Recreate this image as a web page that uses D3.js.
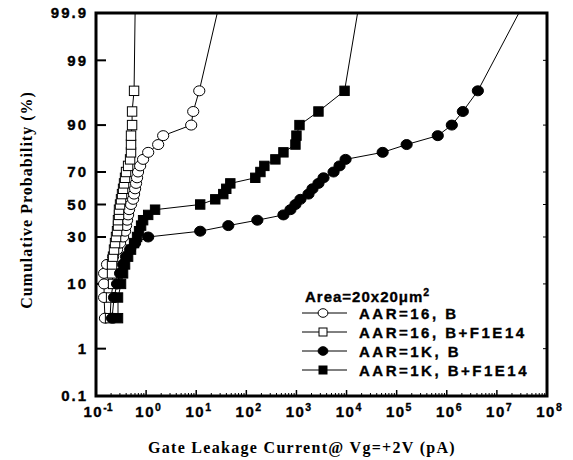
<!DOCTYPE html>
<html><head><meta charset="utf-8">
<script src="https://cdn.jsdelivr.net/npm/d3@7"></script>
<style>body{margin:0;background:#fff}svg{display:block}</style>
</head><body><svg id="c" width="573" height="460"></svg>
<script>
// cumulative probability (%) of each plotted point
const cumPct = [3.33,6.67,10,13.33,16.67,20,23.33,26.67,30,33.33,36.67,40,43.33,46.67,50,53.33,56.67,60,63.33,66.67,70,73.33,76.67,80,83.33,86.67,90,93.33,96.67];
// gate leakage current (pA)
const openCircleI = [0.151,0.145,0.145,0.145,0.166,0.219,0.263,0.302,0.347,0.380,0.398,0.417,0.437,0.457,0.50,0.55,0.575,0.603,0.63,0.66,0.69,0.76,0.87,1.10,1.74,2.19,7.94,8.71,11.5];
const openSquareI = [0.191,0.20,0.219,0.209,0.209,0.219,0.229,0.240,0.251,0.263,0.275,0.275,0.288,0.288,0.302,0.316,0.331,0.347,0.363,0.380,0.398,0.437,0.479,0.50,0.50,0.50,0.525,0.525,0.575];
const solidCircleI = [0.209,0.229,0.263,0.302,0.347,0.398,0.479,0.603,1.10,12.0,43.7,166,550,759,955,1200,1740,2090,2750,3470,5500,7240,9550,52500,158000,661000,1.26e6,2.09e6,4.17e6];
const solidSquareI = [0.275,0.275,0.316,0.347,0.380,0.437,0.50,0.575,0.66,0.724,0.794,0.871,1.10,1.51,12.0,24.0,34.7,39.8,47.9,151,191,229,380,550,955,1000,1150,2750,9120];
// where each curve leaves the top of the frame
const endPct = 99.9;
const endI = [26.3, 0.603, 2.75e7, 1.66e4];
const seriesNames = ["AAR=16, B","AAR=16, B+F1E14","AAR=1K, B","AAR=1K, B+F1E14"];
const seriesShape = ["circle","square","circle","square"];
const seriesFill = ["#fff","#fff","#000","#000"];
const yTickPct = [0.1,1,10,30,50,70,90,99,99.9];
const yTickLabels = ["0.1","1","10","30","50","70","90","99","99.9"];
const xTickExp = [-1,0,1,2,3,4,5,6,7,8];

function probit(p){
  const a=[-3.969683028665376e+01,2.209460984245205e+02,-2.759285104469687e+02,1.383577518672690e+02,-3.066479806614716e+01,2.506628277459239e+00];
  const b=[-5.447609879822406e+01,1.615858368580409e+02,-1.556989798598866e+02,6.680131188771972e+01,-1.328068155288572e+01];
  const c=[-7.784894002430293e-03,-3.223964580411365e-01,-2.400758277161838e+00,-2.549732539343734e+00,4.374664141464968e+00,2.938163982698783e+00];
  const d=[7.784695709041462e-03,3.224671290700398e-01,2.445134137142996e+00,3.754408661907416e+00];
  const pl=0.02425;let q,r;
  if(p<pl){q=Math.sqrt(-2*Math.log(p));return (((((c[0]*q+c[1])*q+c[2])*q+c[3])*q+c[4])*q+c[5])/((((d[0]*q+d[1])*q+d[2])*q+d[3])*q+1);}
  if(p<=1-pl){q=p-0.5;r=q*q;return (((((a[0]*r+a[1])*r+a[2])*r+a[3])*r+a[4])*r+a[5])*q/(((((b[0]*r+b[1])*r+b[2])*r+b[3])*r+b[4])*r+1);}
  q=Math.sqrt(-2*Math.log(1-p));return -(((((c[0]*q+c[1])*q+c[2])*q+c[3])*q+c[4])*q+c[5])/((((d[0]*q+d[1])*q+d[2])*q+d[3])*q+1);
}

const L=96,R=547,T=13,B=396;
const svg=d3.select("#c");
const x=d3.scaleLog().domain([0.1,1e8]).range([L,R]);
const yz=d3.scaleLinear().domain([probit(0.001),probit(0.999)]).range([B,T]);
const y=p=>yz(probit(p/100));

const sans="'Liberation Sans', Arial, sans-serif";
const serif="'Liberation Serif', 'Times New Roman', serif";
function heavy(sel){return sel.attr("stroke","#000").attr("stroke-width",0.35);}

// Y axis (ticks inward)
const gy=svg.append("g").attr("transform",`translate(${L},0)`);
yTickPct.forEach((p,i)=>{
  gy.append("line").attr("x1",0).attr("x2",10).attr("y1",y(p)).attr("y2",y(p)).attr("stroke","#000").attr("stroke-width",2);
  heavy(gy.append("text").attr("x",-8).attr("y",y(p)).attr("dy","0.36em").attr("text-anchor","end")
    .attr("font-family",sans).attr("font-weight","bold").attr("font-size",15).attr("letter-spacing",2).text(yTickLabels[i]));
  if(i>0&&i<yTickPct.length-1) svg.append("line").attr("x1",R-4).attr("x2",R).attr("y1",y(p)).attr("y2",y(p)).attr("stroke","#000").attr("stroke-width",1);
});

// X axis with minor ticks
const gx=svg.append("g").attr("transform",`translate(0,${B})`);
const minor=[];
xTickExp.forEach(e=>{ if(e<8) for(let k=2;k<10;k++) minor.push(k*Math.pow(10,e)); });
gx.selectAll("line.mi").data(minor).enter().append("line").attr("x1",d=>x(d)).attr("x2",d=>x(d)).attr("y1",0).attr("y2",-3).attr("stroke","#000").attr("stroke-width",1);
gx.selectAll("line.ma").data(xTickExp).enter().append("line").attr("x1",d=>x(Math.pow(10,d))).attr("x2",d=>x(Math.pow(10,d))).attr("y1",0).attr("y2",-6).attr("stroke","#000").attr("stroke-width",1.5);
heavy(gx.selectAll("text").data(xTickExp).enter().append("text").attr("x",d=>x(Math.pow(10,d))+2).attr("y",21)
  .attr("text-anchor","middle").attr("font-family",sans).attr("font-weight","bold").attr("font-size",15).attr("letter-spacing",1.5))
  .each(function(d){const t=d3.select(this);t.append("tspan").text("10");t.append("tspan").attr("dy",-6).attr("font-size",10.5).attr("letter-spacing",0).text(String(d));});

// frame
svg.append("rect").attr("x",L).attr("y",T).attr("width",R-L).attr("height",B-T).attr("fill","none").attr("stroke","#000").attr("stroke-width",3);

// series
const data=[openCircleI,openSquareI,solidCircleI,solidSquareI];
const line=d3.line().x(d=>x(d[0])).y(d=>y(d[1]));
function marker(g,shape,fill,cx,cy,r){
  if(shape==="circle") g.append("ellipse").attr("cx",cx).attr("cy",cy).attr("rx",r+0.4).attr("ry",r-0.2).attr("fill",fill).attr("stroke","#000").attr("stroke-width",1);
  else g.append("rect").attr("x",cx-r+0.5).attr("y",cy-r+0.5).attr("width",2*r-1).attr("height",2*r-1).attr("fill",fill).attr("stroke","#000").attr("stroke-width",1);
}
data.forEach((vals,si)=>{
  const pts=vals.map((v,i)=>[v,cumPct[i]]);
  pts.push([endI[si],endPct]);
  svg.append("path").attr("d",line(pts)).attr("fill","none").attr("stroke","#000").attr("stroke-width",1);
});
data.forEach((vals,si)=>{
  const g=svg.append("g");
  vals.forEach((v,i)=>marker(g,seriesShape[si],seriesFill[si],x(v),y(cumPct[i]),5.2));
});

// legend
const lg=svg.append("g");
const lt=heavy(lg.append("text").attr("x",305).attr("y",302).attr("font-family",sans).attr("font-weight","bold").attr("font-size",15).attr("letter-spacing",1));
lt.append("tspan").text("Area=20x20\u03bcm");
lt.append("tspan").attr("dy",-6).attr("font-size",10.5).text("2");
const rowY=[313,332,351,370];
seriesNames.forEach((n,i)=>{
  lg.append("line").attr("x1",302).attr("x2",347).attr("y1",rowY[i]).attr("y2",rowY[i]).attr("stroke","#000").attr("stroke-width",1);
  marker(lg,seriesShape[i],seriesFill[i],323,rowY[i],4.5);
  heavy(lg.append("text").attr("x",359).attr("y",rowY[i]+5.5).attr("font-family",sans).attr("font-weight","bold").attr("font-size",15).attr("letter-spacing",2.5).text(n));
});

// axis titles
svg.append("text").attr("x",302).attr("y",453).attr("text-anchor","middle").attr("font-family",serif).attr("font-weight","bold").attr("font-size",16).attr("letter-spacing",1.3).text("Gate Leakage Current@ Vg=+2V (pA)");
svg.append("text").attr("transform","translate(32,200) rotate(-90)").attr("text-anchor","middle").attr("font-family",serif).attr("font-weight","bold").attr("font-size",16).attr("letter-spacing",1).text("Cumulative Probability (%)");
</script></body></html>
